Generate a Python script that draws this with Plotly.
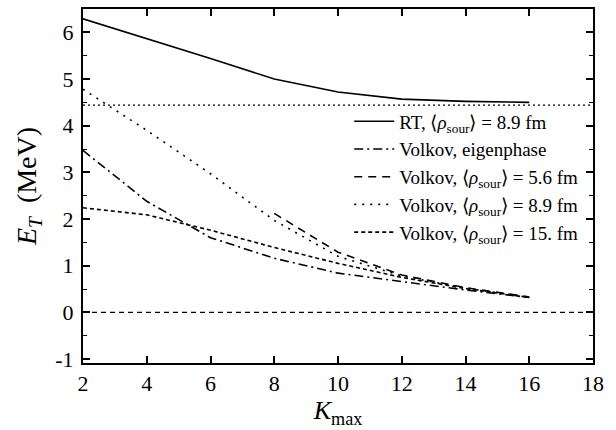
import plotly.graph_objects as go

# ---- data ----
kmax = [2, 4, 6, 8, 10, 12, 14, 16]
rt_89 = [6.29, 5.87, 5.44, 5.00, 4.72, 4.57, 4.52, 4.50]
volkov_eig = [3.47, 2.38, 1.60, 1.16, 0.84, 0.66, 0.48, 0.32]
kmax_56 = [8, 10, 12, 14, 16]
volkov_56 = [2.12, 1.29, 0.80, 0.53, 0.33]
volkov_89 = [4.78, 3.90, 2.97, 1.97, 1.20, 0.78, 0.52, 0.32]
volkov_15 = [2.24, 2.09, 1.76, 1.39, 1.05, 0.75, 0.51, 0.32]
ref_x = [2, 18]
ref_limit = [4.44, 4.44]
ref_zero = [0, 0]
x_ticks = [2, 4, 6, 8, 10, 12, 14, 16, 18]
y_ticks = [-1, 0, 1, 2, 3, 4, 5, 6]
y_ticktext = ["-1", "0", "1", "2", "3", "4", "5", "6"]
y_minor = [-0.5, 0.5, 1.5, 2.5, 3.5, 4.5, 5.5]

names = [
    "RT, \u27E8<i>\u03C1</i><sub>sour</sub>\u27E9 = 8.9 fm",
    "Volkov, eigenphase",
    "Volkov, \u27E8<i>\u03C1</i><sub>sour</sub>\u27E9 = 5.6 fm",
    "Volkov, \u27E8<i>\u03C1</i><sub>sour</sub>\u27E9 = 8.9 fm",
    "Volkov, \u27E8<i>\u03C1</i><sub>sour</sub>\u27E9 = 15. fm",
]

FONT = "Liberation Serif"

fig = go.Figure()
fig.add_trace(go.Scatter(x=ref_x, y=ref_limit, mode="lines", showlegend=False,
                         line=dict(color="black", width=1.2, dash="2px,3px")))
fig.add_trace(go.Scatter(x=ref_x, y=ref_zero, mode="lines", showlegend=False,
                         line=dict(color="black", width=1.2, dash="5px,4px")))
fig.add_trace(go.Scatter(x=kmax, y=rt_89, mode="lines", name=names[0],
                         line=dict(color="black", width=1.6)))
fig.add_trace(go.Scatter(x=kmax, y=volkov_eig, mode="lines", name=names[1],
                         line=dict(color="black", width=1.6, dash="9px,4px,2px,4px")))
fig.add_trace(go.Scatter(x=kmax_56, y=volkov_56, mode="lines", name=names[2],
                         line=dict(color="black", width=1.6, dash="8px,6px")))
fig.add_trace(go.Scatter(x=kmax, y=volkov_89, mode="lines", name=names[3],
                         line=dict(color="black", width=1.6, dash="2px,6px")))
fig.add_trace(go.Scatter(x=kmax, y=volkov_15, mode="lines", name=names[4],
                         line=dict(color="black", width=1.6, dash="4px,3px")))

fig.update_layout(
    width=616, height=430,
    margin=dict(l=83, r=23, t=7, b=67),
    paper_bgcolor="white", plot_bgcolor="white",
    font=dict(family=FONT, size=22, color="black"),
    legend=dict(x=0.522, y=0.736, xanchor="left", yanchor="top",
                bgcolor="rgba(0,0,0,0)", font=dict(size=19, family=FONT),
                tracegroupgap=0, itemwidth=40),
    xaxis=dict(
        range=[2, 18], tickvals=x_ticks,
        ticks="inside", ticklen=7, tickwidth=1.5, tickcolor="black",
        showline=True, linecolor="black", linewidth=2, mirror="ticks",
        showgrid=False, zeroline=False,
        title=dict(text="<i>K</i><sub>max</sub>", font=dict(size=26, family=FONT), standoff=4),
    ),
    yaxis=dict(
        range=[-1.085, 6.5], tickvals=y_ticks, ticktext=y_ticktext,
        ticks="inside", ticklen=7, tickwidth=1.5, tickcolor="black",
        showline=True, linecolor="black", linewidth=2, mirror="ticks",
        showgrid=False, zeroline=False, ticklabelstandoff=3,
        minor=dict(tickvals=y_minor, ticks="inside",
                   ticklen=4, tickwidth=1.2, tickcolor="black"),
        title=dict(text="<i>E</i><sub><i>T</i></sub>  (MeV)", font=dict(size=28, family=FONT), standoff=10),
    ),
)

fig.write_html("out.html", config={"displayModeBar": False},
               post_script="document.body.style.margin='0px';document.body.style.padding='0px';")
